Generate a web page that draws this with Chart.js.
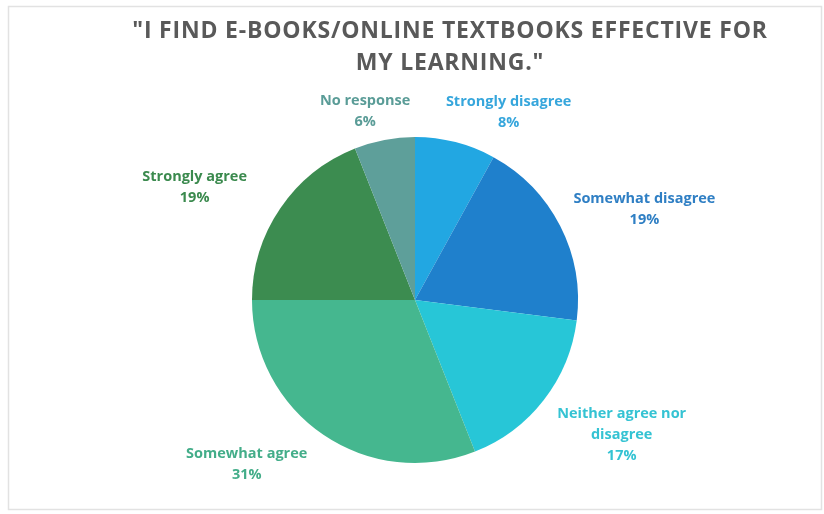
<!DOCTYPE html>
<html lang="en">
<head>
  <meta charset="UTF-8">
  <title>E-books survey</title>
  <script src="https://cdn.jsdelivr.net/npm/chart.js"></script>
  <style>
    html, body {
      margin: 0;
      padding: 0;
      background-color: #ffffff;
    }

    #wrap {
      position: relative;
      width: 824px;
      height: 514px;
    }
  </style>
</head>
<body>

<div id="wrap">
  <canvas id="pieChart" width="824" height="514"></canvas>
</div>

<script>
  // survey answers, clockwise from 12 o'clock
  const categories = ['Strongly disagree', 'Somewhat disagree', 'Neither agree nor disagree', 'Somewhat agree', 'Strongly agree', 'No response'];
  const percents = [8, 19, 17, 31, 19, 6];
  const titleLines = ['"I FIND E-BOOKS/ONLINE TEXTBOOKS EFFECTIVE FOR', 'MY LEARNING."'];

  const sliceColors = ['#22a7e2', '#1f80cc', '#27c6d7', '#45b78f', '#3c8c50', '#5e9f9a'];
  const labelColors = ['#36a6dc', '#2f7fc4', '#35c3d3', '#43ad89', '#3b8a4e', '#5a9c97'];
  // small shifts so the labels sit where the spreadsheet put them
  const labelNudge = [[35, 0], [12, -3], [19, 10], [-37, 4], [-34, -4], [-9, 2]];

  const labelFont = 'bold 14.5px "Open Sans", Lato, sans-serif';
  const lineH = 21;

  function wrapText(ctx, text, maxW) {
    const words = text.split(' ');
    const lines = [];
    let cur = '';
    words.forEach(w => {
      const test = cur ? cur + ' ' + w : w;
      if (cur && ctx.measureText(test).width > maxW) {
        lines.push(cur);
        cur = w;
      } else {
        cur = test;
      }
    });
    if (cur) lines.push(cur);
    return lines;
  }

  const framePlugin = {
    id: 'frame',
    beforeDraw(chart) {
      const ctx = chart.ctx;
      ctx.save();
      ctx.fillStyle = '#ffffff';
      ctx.fillRect(0, 0, chart.width, chart.height);
      ctx.strokeStyle = '#e2e2e2';
      ctx.lineWidth = 1.5;
      ctx.strokeRect(8.5, 6.5, 813, 503);

      // title, centred a little right of the plot
      ctx.fillStyle = '#595959';
      ctx.font = 'bold 23px "Open Sans", Lato, sans-serif';
      ctx.letterSpacing = '0.8px';
      ctx.textAlign = 'center';
      ctx.textBaseline = 'middle';
      titleLines.forEach((t, i) => ctx.fillText(t, 450, 31 + i * 32));
      ctx.restore();
    }
  };

  const labelPlugin = {
    id: 'outLabels',
    afterDatasetsDraw(chart) {
      const ctx = chart.ctx;
      const arcs = chart.getDatasetMeta(0).data;
      ctx.save();
      ctx.font = labelFont;
      ctx.textAlign = 'center';
      ctx.textBaseline = 'middle';
      arcs.forEach((arc, i) => {
        const p = arc.getProps(['x', 'y', 'startAngle', 'endAngle', 'outerRadius'], true);
        const mid = (p.startAngle + p.endAngle) / 2;
        const cx = Math.cos(mid), cy = Math.sin(mid);
        const lines = wrapText(ctx, categories[i], 170);
        lines.push(percents[i] + '%');
        const w = Math.max(...lines.map(l => ctx.measureText(l).width));
        const h = lines.length * lineH;
        const gap = 10;
        const ax = p.x + (p.outerRadius + gap) * cx;
        const ay = p.y + (p.outerRadius + gap) * cy;
        const bx = ax + cx * w / 2 + labelNudge[i][0];
        const by = ay + cy * h / 2 + labelNudge[i][1];
        ctx.fillStyle = labelColors[i];
        lines.forEach((l, k) => {
          ctx.fillText(l, bx, by - h / 2 + lineH / 2 + k * lineH);
        });
      });
      ctx.restore();
    }
  };

  const ctx = document.getElementById('pieChart').getContext('2d');
  new Chart(ctx, {
    type: 'pie',
    data: {
      labels: categories,
      datasets: [{
        data: percents,
        backgroundColor: sliceColors,
        borderWidth: 0
      }]
    },
    options: {
      responsive: false,
      animation: false,
      layout: {
        padding: { left: 252, right: 246, top: 137, bottom: 51 }
      },
      plugins: {
        legend: { display: false },
        title: { display: false },
        tooltip: { enabled: false }
      }
    },
    plugins: [framePlugin, labelPlugin]
  });
</script>

</body>
</html>
